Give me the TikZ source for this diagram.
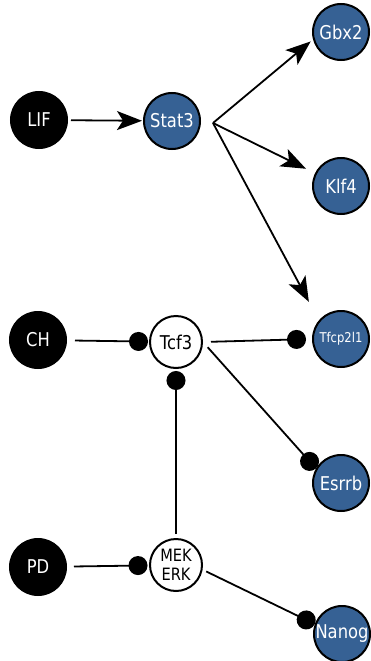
\documentclass[tikz,border=0pt]{standalone}
\usepackage{fontspec}
\setsansfont{DejaVu Sans}[FakeStretch=0.86]
\usetikzlibrary{arrows.meta}
\definecolor{geneblue}{RGB}{54,97,148}
\begin{document}
\begin{tikzpicture}[x=1pt,y=-1pt,
  every node/.style={circle, minimum size=56pt, inner sep=0pt, line width=2pt,
    font=\sffamily\fontsize{19}{21}\selectfont, align=center},
  input/.style={fill=black, text=white, draw=black},
  gene/.style={fill=geneblue, text=white, draw=black},
  hub/.style={fill=white, text=black, draw=black, minimum size=52pt},
  edge/.style={line width=1.8pt},
  act/.style={edge, -{Stealth[length=25pt,width=19pt,inset=6pt]}},
  inh/.style={edge, -{Circle[length=19pt]}},
]
\useasboundingbox (0,0) rectangle (371,661);

% inputs
\node[input] (lif) at (39,120) {LIF};
\node[input] (ch)  at (38,340) {CH};
\node[input] (pd)  at (38,567) {PD};

% signalling hubs
\node[gene] (stat3) at (172,121) {Stat3};
\node[hub]  (tcf3)  at (176,342) {Tcf3};
\node[hub, font=\sffamily\fontsize{17}{19.5}\selectfont] (mek) at (176,565) {MEK\\ERK};

% target genes
\node[gene] (gbx2)  at (341,32)  {Gbx2};
\node[gene] (klf4)  at (341,186) {Klf4};
\node[gene, font=\sffamily\fontsize{13.5}{14}\selectfont] (tfcp) at (341,339) {Tfcp2l1};
\node[gene] (esrrb) at (341,483) {Esrrb};
\node[gene] (nanog) at (342,634) {Nanog};

% activation by LIF/Stat3
\draw[act, shorten <=3pt, shorten >=1pt] (lif) -- (stat3);
\coordinate (fan) at (213,123);
\draw[act, shorten >=3pt]  (fan) -- (gbx2.195);
\draw[act, shorten >=10pt] (fan) -- (klf4);
\draw[act, shorten >=21pt] (fan) -- (tfcp.140);

% inhibitory links
\draw[inh, shorten <=8pt, shorten >=1pt] (ch) -- (tcf3);
\draw[inh, shorten <=7pt, shorten >=1.5pt] (pd) -- (mek);
\draw[inh, shorten <=4pt, shorten >=2pt] (mek) -- (tcf3);
\draw[inh, shorten <=8pt, shorten >=6pt] (tcf3.east) -- (tfcp.west);
\draw[inh, shorten <=7pt] (tcf3.east) -- (esrrb.150);
\draw[inh, shorten <=4pt] (mek.-10) -- (nanog.160);
\end{tikzpicture}
\end{document}
